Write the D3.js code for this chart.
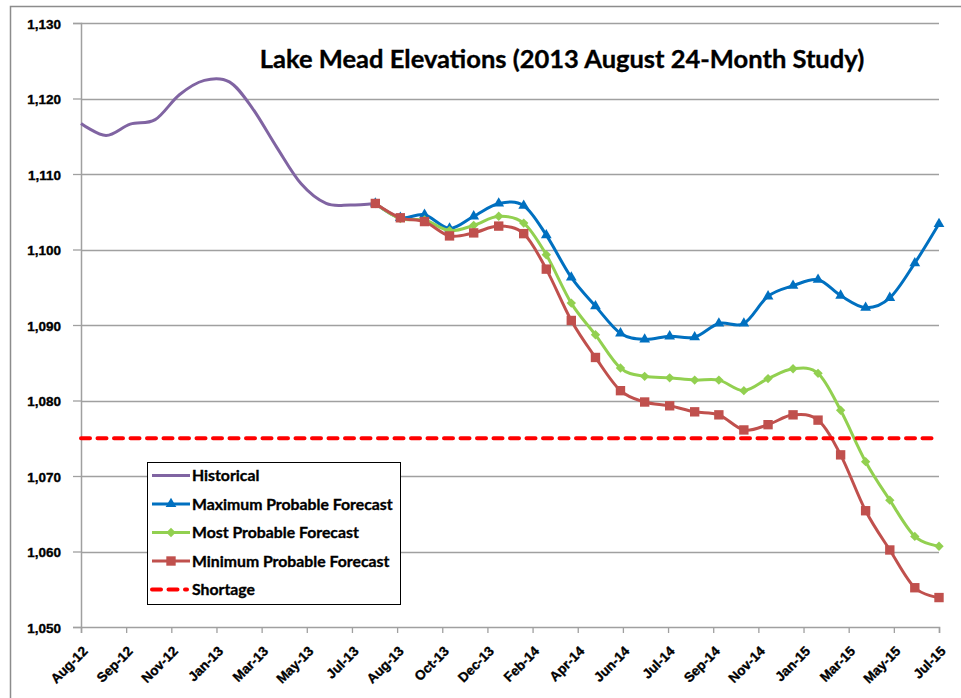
<!DOCTYPE html>
<html>
<head>
<meta charset="utf-8">
<script src="https://cdn.jsdelivr.net/npm/d3@7"></script>
<style>
  body { margin: 0; background: #fff; }
  svg { font-family: Lato, "Open Sans", sans-serif; font-weight: bold; }
  svg text { stroke: #000; stroke-width: 0.35px; }
</style>
</head>
<body>
<svg id="chart"></svg>
<script>
// Data
const histDates = ["2012-08-01", "2012-09-01", "2012-10-01", "2012-11-01", "2012-12-01", "2013-01-01",
    "2013-02-01", "2013-03-01", "2013-04-01", "2013-05-01", "2013-06-01", "2013-07-01", "2013-08-01"];
const histValues = [1116.7, 1115.1, 1116.6, 1117.2, 1120.5, 1122.4, 1122.2, 1118.8, 1113.5, 1108.7, 1106.1, 1105.9, 1106.1];

const forecastDates = ["2013-08-01", "2013-09-01", "2013-10-01", "2013-11-01", "2013-12-01", "2014-01-01",
    "2014-02-01", "2014-03-01", "2014-04-01", "2014-05-01", "2014-06-01", "2014-07-01",
    "2014-08-01", "2014-09-01", "2014-10-01", "2014-11-01", "2014-12-01", "2015-01-01",
    "2015-02-01", "2015-03-01", "2015-04-01", "2015-05-01", "2015-06-01", "2015-07-01"];
const maxValues = [1106.1, 1104.2, 1104.6, 1102.8, 1104.4, 1106.1, 1105.8, 1101.9, 1096.3, 1092.5, 1088.9, 1088.1,
    1088.5, 1088.4, 1090.2, 1090.2, 1093.8, 1095.2, 1096.0, 1093.9, 1092.3, 1093.6, 1098.2, 1103.4];
const mostValues = [1106.1, 1104.1, 1103.9, 1102.5, 1103.2, 1104.4, 1103.5, 1099.3, 1092.9, 1088.7, 1084.3, 1083.2,
    1083.0, 1082.7, 1082.7, 1081.3, 1082.9, 1084.2, 1083.6, 1078.7, 1071.9, 1066.8, 1062.0, 1060.7];
const minValues = [1106.1, 1104.2, 1103.7, 1101.8, 1102.2, 1103.1, 1102.1, 1097.4, 1090.6, 1085.7, 1081.3, 1079.8,
    1079.3, 1078.5, 1078.1, 1076.1, 1076.8, 1078.1, 1077.4, 1072.8, 1065.4, 1060.2, 1055.2, 1053.9];
const shortageDates = ["2012-08-01", "2015-07-01"];
const shortageValues = [1075, 1075];

const tickLabels = ["Aug-12", "Sep-12", "Nov-12", "Jan-13", "Mar-13", "May-13", "Jul-13", "Aug-13", "Oct-13", "Dec-13",
    "Feb-14", "Apr-14", "Jun-14", "Jul-14", "Sep-14", "Nov-14", "Jan-15", "Mar-15", "May-15", "Jul-15"];
const yTicks = [1050, 1060, 1070, 1080, 1090, 1100, 1110, 1120, 1130];

const parse = d3.timeParse("%Y-%m-%d");

let width = 961, height = 698;
let margin = { top: 23, right: 22, bottom: 71, left: 81 };

let svg = d3.select('#chart')
    .attr('width', width)
    .attr('height', height);

// outer chart frame (only top and left edges are in view)
svg.append('path')
    .attr('d', `M10.5,${height} V6.5 H${width}`)
    .attr('fill', 'none')
    .attr('stroke', '#8c8c8c')
    .attr('stroke-width', 1.5);

// scales
let xStart = parse(shortageDates[0]), xEnd = parse(shortageDates[1]);
let xScale = d3.scaleTime()
    .domain([xStart, xEnd])
    .range([margin.left, width - margin.right]);

let yScale = d3.scaleLinear()
    .domain([1050, 1130])
    .range([height - margin.bottom, margin.top]);

// ticks every 8 weeks from the axis start, like the Excel date axis
const tickDates = tickLabels.map((d, i) => d3.timeDay.offset(xStart, i * 56));

// gridlines
svg.append('g')
    .selectAll('line')
    .data(yTicks.slice(1))
    .enter()
    .append('line')
    .attr('x1', margin.left)
    .attr('x2', width - margin.right)
    .attr('y1', d => Math.round(yScale(d)) + 0.5)
    .attr('y2', d => Math.round(yScale(d)) + 0.5)
    .attr('stroke', '#a0a0a0')
    .attr('stroke-width', 1.3);

// y axis
let yAxis = svg.append('g')
    .attr('transform', `translate(${margin.left}, 0)`)
    .call(d3.axisLeft(yScale).tickValues(yTicks).tickFormat(d3.format(',')).tickSize(8).tickPadding(12));

// x axis
let xAxis = svg.append('g')
    .attr('transform', `translate(0, ${height - margin.bottom})`)
    .call(d3.axisBottom(xScale).tickValues(tickDates).tickFormat((d, i) => tickLabels[i]).tickSize(6));

[yAxis, xAxis].forEach(ax => {
    ax.select('.domain').attr('stroke', '#a0a0a0').attr('stroke-width', 1.5);
    ax.selectAll('.tick line').attr('stroke', '#a0a0a0').attr('stroke-width', 1.3);
    ax.selectAll('text').attr('fill', '#000').style('font-size', '13.5px').style('font-weight', 'bold');
});
yAxis.selectAll('text').attr('dy', '0.4em');

xAxis.selectAll('text')
    .style('font-size', '13.5px')
    .attr('text-anchor', 'end')
    .attr('y', 0)
    .attr('dy', 0)
    .attr('transform', 'translate(7, 25) rotate(-45)');

// series
const line = d3.line()
    .x(d => xScale(d.date))
    .y(d => yScale(d.value))
    .curve(d3.curveCatmullRom.alpha(0));

const zip = (dates, values) => dates.map((d, i) => ({ date: parse(d), value: values[i] }));

const series = [
    { name: 'Historical', data: zip(histDates, histValues), color: '#8064A2', marker: null },
    { name: 'Maximum Probable Forecast', data: zip(forecastDates, maxValues), color: '#0070C0', marker: 'triangle' },
    { name: 'Most Probable Forecast', data: zip(forecastDates, mostValues), color: '#92D050', marker: 'diamond' },
    { name: 'Minimum Probable Forecast', data: zip(forecastDates, minValues), color: '#C0504D', marker: 'square' },
    { name: 'Shortage', data: zip(shortageDates, shortageValues), color: '#FF0000', marker: null, dashed: true }
];

const markerPath = {
    triangle: d3.symbol().type(d3.symbolTriangle).size(50)(),
    diamond: d3.symbol().type(d3.symbolSquare).size(44)(),
    square: d3.symbol().type(d3.symbolSquare).size(88)()
};
const markerRotate = { triangle: 0, diamond: 45, square: 0 };

series.forEach(s => {
    let g = svg.append('g');
    g.append('path')
        .datum(s.data)
        .attr('d', line)
        .attr('fill', 'none')
        .attr('stroke', s.color)
        .attr('stroke-width', s.dashed ? 4 : 3)
        .attr('stroke-dasharray', s.dashed ? '9,7.5' : null)
        .attr('stroke-linecap', s.dashed ? 'round' : 'butt');
    if (s.marker) {
        g.selectAll('.marker')
            .data(s.data)
            .enter()
            .append('path')
            .attr('class', 'marker')
            .attr('d', markerPath[s.marker])
            .attr('transform', d => `translate(${xScale(d.date)}, ${yScale(d.value)}) rotate(${markerRotate[s.marker]})`)
            .attr('fill', s.color);
    }
});

// title
svg.append('text')
    .attr('x', 562)
    .attr('y', 68)
    .attr('text-anchor', 'middle')
    .style('font-size', '25.5px')
    .text('Lake Mead Elevations (2013 August 24-Month Study)');

// legend
let legendBox = { x: 147, y: 462, w: 253, h: 142 };
svg.append('rect')
    .attr('x', legendBox.x + 0.5)
    .attr('y', legendBox.y + 0.5)
    .attr('width', legendBox.w)
    .attr('height', legendBox.h)
    .attr('fill', '#fff')
    .attr('stroke', '#000')
    .attr('stroke-width', 1);

const legend = svg.selectAll('.legend')
    .data(series)
    .enter().append('g')
    .attr('class', 'legend')
    .attr('transform', (d, i) => `translate(${legendBox.x}, ${legendBox.y + 13.5 + i * 28.5})`);

legend.append('line')
    .attr('x1', 5)
    .attr('x2', d => d.dashed ? 40 : 43)
    .attr('stroke', d => d.color)
    .attr('stroke-width', d => d.dashed ? 4 : 3)
    .attr('stroke-dasharray', d => d.dashed ? '9,7.5' : null)
    .attr('stroke-linecap', d => d.dashed ? 'round' : 'butt');

legend.filter(d => d.marker)
    .append('path')
    .attr('d', d => markerPath[d.marker])
    .attr('transform', d => `translate(24, 0) rotate(${markerRotate[d.marker]})`)
    .attr('fill', d => d.color);

legend.append('text')
    .attr('x', 45)
    .attr('dy', '0.36em')
    .style('font-size', '15.8px')
    .text(d => d.name);
</script>
</body>
</html>
